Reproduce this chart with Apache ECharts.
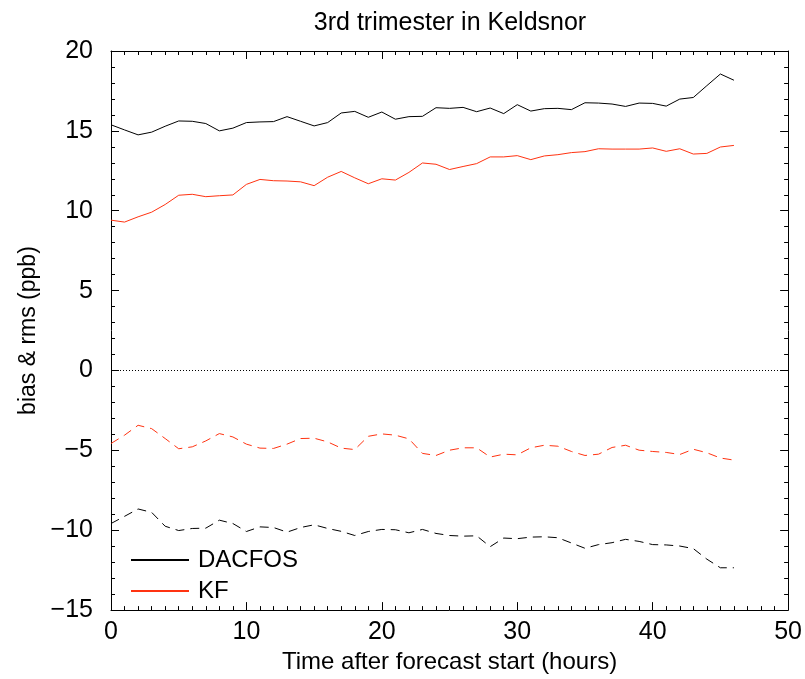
<!DOCTYPE html>
<html><head><meta charset="utf-8">
<script src="https://cdn.jsdelivr.net/npm/echarts@6/dist/echarts.min.js"></script>
<style>html,body{margin:0;padding:0;background:#fff}#c{width:805px;height:679px}</style>
</head><body><div id="c"></div>
<script>
const hours = [0,1,2,3,4,5,6,7,8,9,10,11,12,13,14,15,16,17,18,19,20,21,22,23,24,25,26,27,28,29,30,31,32,33,34,35,36,37,38,39,40,41,42,43,44,45,46];
const dacfosRms = [15.38,15.06,14.75,14.92,15.29,15.62,15.60,15.46,15.00,15.17,15.52,15.56,15.58,15.89,15.60,15.31,15.52,16.12,16.22,15.85,16.18,15.73,15.89,15.91,16.45,16.41,16.47,16.20,16.43,16.08,16.64,16.24,16.39,16.41,16.33,16.76,16.74,16.68,16.53,16.74,16.72,16.55,16.99,17.09,17.83,18.56,18.17];
const kfRms = [9.41,9.29,9.62,9.91,10.39,10.97,11.03,10.88,10.94,10.99,11.65,11.96,11.88,11.86,11.81,11.57,12.10,12.46,12.06,11.69,12.00,11.92,12.40,12.99,12.91,12.58,12.77,12.95,13.37,13.37,13.45,13.20,13.43,13.51,13.64,13.70,13.88,13.86,13.86,13.86,13.93,13.72,13.88,13.55,13.59,13.99,14.09];
const kfBias = [-4.57,-4.05,-3.43,-3.64,-4.26,-4.90,-4.78,-4.41,-3.95,-4.16,-4.61,-4.86,-4.88,-4.61,-4.26,-4.24,-4.47,-4.86,-4.95,-4.12,-3.97,-4.05,-4.28,-5.19,-5.32,-4.99,-4.84,-4.84,-5.42,-5.24,-5.28,-4.84,-4.68,-4.74,-5.07,-5.32,-5.24,-4.82,-4.68,-4.99,-5.07,-5.13,-5.26,-4.93,-5.15,-5.48,-5.61];
const dacfosBias = [-9.58,-9.13,-8.67,-8.88,-9.75,-10.02,-9.89,-9.87,-9.37,-9.58,-10.08,-9.79,-9.83,-10.12,-9.83,-9.66,-9.89,-10.07,-10.33,-10.08,-9.95,-9.97,-10.16,-9.95,-10.20,-10.33,-10.37,-10.35,-11.03,-10.49,-10.53,-10.43,-10.41,-10.47,-10.80,-11.13,-10.90,-10.78,-10.57,-10.70,-10.90,-10.92,-10.99,-11.15,-11.81,-12.35,-12.35];
const legendNames = ['DACFOS','KF'];
const titleText = '3rd trimester in Keldsnor';
const xName = 'Time after forecast start (hours)';
const yName = 'bias & rms (ppb)';

const FONT = 'Liberation Sans, Arial, Helvetica, sans-serif';
const BLACK = '#000000';
const RED = '#ff3311';
const pairs = v => hours.map((h, i) => [h, v[i]]);

const axisCommon = {
  axisLine: {show: true, onZero: false, lineStyle: {color: BLACK, width: 1}},
  axisTick: {show: true, inside: true, length: 8, lineStyle: {color: BLACK, width: 1}},
  minorTick: {show: true, length: 4, lineStyle: {color: BLACK, width: 1}},
  splitLine: {show: false},
  minorSplitLine: {show: false}
};

const chart = echarts.init(document.getElementById('c'), null, {renderer: 'canvas'});
chart.setOption({
  backgroundColor: '#ffffff',
  animation: false,
  title: {
    text: titleText, left: 445, top: 6, textAlign: 'center',
    textStyle: {fontFamily: FONT, fontSize: 25, fontWeight: 'normal', color: BLACK}
  },
  grid: {left: 111, right: 14, top: 51, bottom: 64, containLabel: false},
  legend: {
    data: legendNames, orient: 'vertical', left: 130, top: 548, padding: 0,
    itemWidth: 58, itemHeight: 16, itemGap: 7,
    itemStyle: {opacity: 0, borderWidth: 0},
    textStyle: {fontFamily: FONT, fontSize: 24, color: BLACK, padding: [0, 0, 0, 4]}
  },
  xAxis: [
    Object.assign({}, axisCommon, {
      type: 'value', position: 'bottom', min: 0, max: 50, interval: 10,
      minorTick: Object.assign({}, axisCommon.minorTick, {splitNumber: 10}),
      name: xName, nameLocation: 'middle', nameGap: 38,
      nameTextStyle: {fontFamily: FONT, fontSize: 24, color: BLACK},
      axisLabel: {show: true, margin: 10, fontFamily: FONT, fontSize: 25, color: BLACK}
    }),
    Object.assign({}, axisCommon, {
      type: 'value', position: 'top', min: 0, max: 50, interval: 10,
      minorTick: Object.assign({}, axisCommon.minorTick, {splitNumber: 10}),
      axisLabel: {show: false}
    })
  ],
  yAxis: [
    Object.assign({}, axisCommon, {
      type: 'value', position: 'left', min: -15, max: 20, interval: 5,
      minorTick: Object.assign({}, axisCommon.minorTick, {splitNumber: 5}),
      name: yName, nameLocation: 'middle', nameGap: 71, nameRotate: 90,
      nameTextStyle: {fontFamily: FONT, fontSize: 23, color: BLACK},
      axisLabel: {show: true, margin: 18, fontFamily: FONT, fontSize: 25, color: BLACK,
        formatter: v => (v < 0 ? '\u2212' + Math.abs(v) : String(v))}
    }),
    Object.assign({}, axisCommon, {
      type: 'value', position: 'right', min: -15, max: 20, interval: 5,
      minorTick: Object.assign({}, axisCommon.minorTick, {splitNumber: 5}),
      axisLabel: {show: false}
    })
  ],
  series: [
    {name: 'DACFOS', type: 'line', data: pairs(dacfosRms), symbol: 'none',
      lineStyle: {color: BLACK, width: 1}, itemStyle: {color: BLACK},
      markLine: {silent: true, symbol: 'none', label: {show: false},
        lineStyle: {color: BLACK, width: 1, type: [1, 2]}, data: [{yAxis: 0}]}},
    {name: 'KF', type: 'line', data: pairs(kfRms), symbol: 'none',
      lineStyle: {color: RED, width: 1}, itemStyle: {color: RED}},
    {name: 'DACFOS bias', type: 'line', data: pairs(dacfosBias), symbol: 'none',
      lineStyle: {color: BLACK, width: 1, type: [9, 6]}, itemStyle: {color: BLACK}},
    {name: 'KF bias', type: 'line', data: pairs(kfBias), symbol: 'none',
      lineStyle: {color: RED, width: 1, type: [9, 6]}, itemStyle: {color: RED}}
  ]
});
</script></body></html>
